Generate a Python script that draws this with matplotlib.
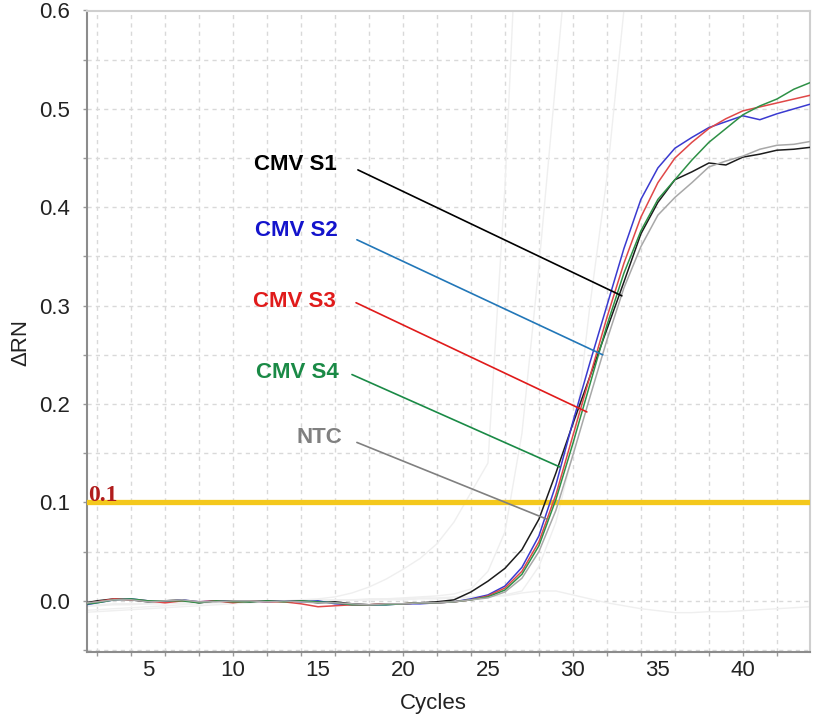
import matplotlib
matplotlib.use("Agg")
import matplotlib.pyplot as plt
from matplotlib.ticker import MultipleLocator, FormatStrFormatter

plt.rcParams["font.family"] = ["Liberation Sans", "DejaVu Sans"]

### Data (delta Rn per cycle)

cycles = list(range(1, 45))

cmv_s1 = [-0.003, 0.000, 0.002, 0.001, -0.001, 0.000, 0.001, -0.002, 0.000, 0.000,
          -0.001, 0.000, 0.000, 0.000, -0.002, -0.001, -0.003, -0.004, -0.003, -0.003,
          -0.002, -0.001, 0.001, 0.009, 0.020, 0.033, 0.052, 0.083, 0.130, 0.180,
          0.228, 0.276, 0.324, 0.373, 0.405, 0.428, 0.436, 0.445, 0.443, 0.451,
          0.454, 0.458, 0.459, 0.461]
cmv_s2 = [-0.005, -0.002, 0.001, 0.002, 0.000, -0.001, 0.001, -0.001, 0.000, -0.001,
          0.000, -0.001, 0.000, -0.001, 0.000, -0.003, -0.004, -0.004, -0.004, -0.003,
          -0.003, -0.002, -0.001, 0.002, 0.006, 0.015, 0.034, 0.066, 0.118, 0.182,
          0.242, 0.300, 0.358, 0.408, 0.440, 0.460, 0.471, 0.481, 0.487, 0.493,
          0.489, 0.495, 0.500, 0.505]
cmv_s3 = [-0.004, -0.001, 0.002, 0.001, 0.000, -0.002, 0.000, -0.001, 0.000, -0.002,
          0.000, -0.001, -0.001, -0.003, -0.006, -0.005, -0.004, -0.004, -0.003, -0.003,
          -0.002, -0.002, -0.001, 0.001, 0.005, 0.013, 0.030, 0.060, 0.108, 0.168,
          0.228, 0.288, 0.343, 0.390, 0.425, 0.450, 0.466, 0.480, 0.490, 0.498,
          0.502, 0.506, 0.510, 0.514]
cmv_s4 = [-0.004, -0.002, 0.001, 0.002, 0.000, 0.000, 0.000, -0.002, 0.000, -0.001,
          -0.001, 0.000, -0.001, 0.000, -0.001, -0.002, -0.004, -0.004, -0.004, -0.003,
          -0.002, -0.002, -0.001, 0.001, 0.004, 0.011, 0.027, 0.056, 0.103, 0.160,
          0.220, 0.280, 0.333, 0.376, 0.408, 0.428, 0.448, 0.466, 0.480, 0.494,
          0.503, 0.510, 0.520, 0.527]
ntc = [-0.003, -0.001, 0.001, 0.001, -0.001, 0.000, 0.001, -0.001, -0.001, 0.000,
       0.000, -0.001, 0.000, -0.001, -0.002, -0.002, -0.003, -0.004, -0.003, -0.003,
       -0.002, -0.002, -0.001, 0.001, 0.003, 0.009, 0.023, 0.050, 0.092, 0.148,
       0.207, 0.265, 0.318, 0.360, 0.392, 0.410, 0.425, 0.441, 0.447, 0.452,
       0.459, 0.463, 0.464, 0.467]

# other wells on the plate, shown faintly in the background
other_wells = [
    [-0.012, -0.011, -0.010, -0.009, -0.008, -0.007, -0.006, -0.005, -0.004, -0.003,
     -0.002, -0.001, 0.000, 0.001, 0.002, 0.004, 0.008, 0.014, 0.022, 0.032,
     0.043, 0.058, 0.080, 0.110, 0.140, 0.420, 0.800],
    [-0.006, -0.005, -0.004, -0.004, -0.003, -0.003, -0.002, -0.002, -0.001, -0.001,
     0.000, 0.000, 0.000, 0.000, 0.001, 0.001, 0.001, 0.002, 0.002, 0.003,
     0.004, 0.005, 0.007, 0.012, 0.030, 0.070, 0.170, 0.340, 0.530, 0.720],
    [-0.004, -0.004, -0.003, -0.003, -0.003, -0.002, -0.002, -0.002, -0.001, -0.001,
     -0.001, 0.000, 0.000, 0.000, 0.000, 0.000, 0.001, 0.001, 0.001, 0.001,
     0.002, 0.002, 0.003, 0.003, 0.004, 0.006, 0.010, 0.035, 0.080, 0.150,
     0.300, 0.430, 0.600, 0.750],
    [-0.010, -0.009, -0.008, -0.007, -0.006, -0.005, -0.004, -0.003, -0.002, -0.002,
     -0.001, -0.001, 0.000, 0.000, 0.000, 0.001, 0.001, 0.001, 0.002, 0.002,
     0.003, 0.003, 0.004, 0.004, 0.005, 0.005, 0.008, 0.010, 0.010, 0.006,
     0.002, -0.002, -0.005, -0.008, -0.010, -0.012, -0.012, -0.011, -0.011, -0.010,
     -0.009, -0.008, -0.007, -0.006],
]

threshold = 0.1

samples = ["CMV S1", "CMV S2", "CMV S3", "CMV S4", "NTC"]
series = [cmv_s1, cmv_s2, cmv_s3, cmv_s4, ntc]
curve_colors = ["#1c1c1c", "#3a3ad0", "#e04848", "#2e9046", "#a8a8a8"]
label_colors = ["#000000", "#1414cc", "#e01b1b", "#1a8a46", "#808080"]
leader_colors = ["#000000", "#2277b8", "#e01b1b", "#1a8a46", "#808080"]

# label centre, leader start, leader end (cycle, delta Rn)
label_pos = [(13.65, 0.443), (13.71, 0.376), (13.59, 0.304), (13.76, 0.232), (15.06, 0.166)]
leader_start = [(17.35, 0.438), (17.29, 0.367), (17.24, 0.303), (17.0, 0.230), (17.29, 0.161)]
leader_end = [(32.88, 0.310), (31.76, 0.250), (30.82, 0.192), (29.24, 0.136), (28.47, 0.083)]

### Plot

fig = plt.figure(figsize=(8.13, 7.18), dpi=100)
ax = fig.add_axes([87 / 813, 66 / 718, 723 / 813, 641.5 / 718])

for well in other_wells:
    ax.plot(cycles[:len(well)], well, color="#efefef", lw=1, zorder=1)

ax.axhline(threshold, color="#f4c81c", lw=3.8, zorder=3)
ax.text(1.45, threshold + 0.001, "0.1", color="#b01c1c", fontsize=17,
        fontweight="bold", family="Liberation Serif", va="baseline", ha="left", zorder=5)

for values, color in zip(series, curve_colors):
    ax.plot(cycles, values, color=color, lw=1.1, zorder=4)

for name, color, lcolor, pos, start, end in zip(samples, label_colors, leader_colors,
                                                 label_pos, leader_start, leader_end):
    ax.text(pos[0], pos[1], name, color=color, fontsize=16, fontweight="bold",
            ha="center", va="center", zorder=6)
    ax.annotate("", xy=end, xytext=start,
                arrowprops=dict(arrowstyle="-", color=lcolor, lw=1.2,
                                shrinkA=0, shrinkB=0), zorder=6)

ax.set_xlim(1.41, 43.95)
ax.set_ylim(-0.052, 0.6)

ax.xaxis.set_major_locator(MultipleLocator(5))
ax.xaxis.set_minor_locator(MultipleLocator(2))
ax.xaxis.remove_overlapping_locs = False
ax.yaxis.set_major_locator(MultipleLocator(0.1))
ax.yaxis.set_minor_locator(MultipleLocator(0.05))
ax.yaxis.set_major_formatter(FormatStrFormatter("%.1f"))

ax.tick_params(axis="x", which="major", length=0, pad=6, labelsize=16, labelcolor="#222222")
ax.tick_params(axis="x", which="minor", length=3, width=1, color="#999999")
ax.tick_params(axis="y", which="both", length=3, width=1, color="#999999")
ax.tick_params(axis="y", which="major", pad=9, labelsize=16, labelcolor="#222222")

ax.grid(axis="x", which="minor", ls=(0, (3, 3)), color="#d9d9d9", lw=1)
ax.grid(axis="y", which="both", ls=(0, (3, 3)), color="#d9d9d9", lw=1)
ax.set_axisbelow(True)

for side in ("left", "bottom"):
    ax.spines[side].set_color("#8c8c8c")
    ax.spines[side].set_linewidth(1.5)
for side in ("top", "right"):
    ax.spines[side].set_color("#cfcfcf")
    ax.spines[side].set_linewidth(1.5)

fig.text(433.5 / 813, 1 - 703 / 718, "Cycles", fontsize=16, color="#222222",
         ha="center", va="center")
fig.text(21 / 813, 1 - 342 / 718, "\u0394RN", fontsize=16, color="#222222",
         rotation=90, ha="center", va="center")

fig.savefig("out.png", dpi=100)
